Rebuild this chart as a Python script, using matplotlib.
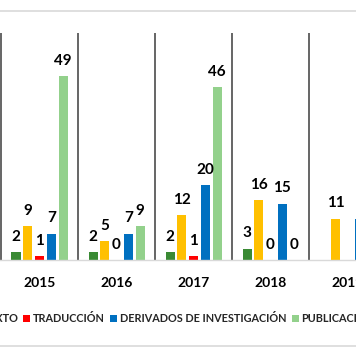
import matplotlib
matplotlib.use("Agg")
import matplotlib.pyplot as plt
from matplotlib.lines import Line2D
import numpy as np

# data read from the (cropped) reference chart
years = ["2015", "2016", "2017", "2018", "2019"]
series_names = ["LIBRO DE TEXTO", "TRADUCCIÓN", "DERIVADOS DE INVESTIGACIÓN", "PUBLICACIONES"]
libro_texto = [2, 2, 2, 3, None]
otros = [9, 5, 12, 16, 11]          # yellow series, its legend entry is off-image
traduccion = [1, 0, 1, 0, None]
derivados = [7, 7, 20, 15, 11]
publicaciones = [49, 9, 46, 0, None]

colors = ["#3a8a34", "#ffc000", "#ff0000", "#0070c0", "#93d18c"]
plt.rcParams["font.family"] = ["Lato", "DejaVu Sans"]

W, H = 356, 364
fig = plt.figure(figsize=(W / 100, H / 100), dpi=100)
# axes placed so the baseline sits at px 260 and the dividers start at px 33
ax = fig.add_axes([0, (H - 260) / H, 1, (260 - 33) / H])

x = np.arange(len(years))
step = 0.1526
width = 0.117
all_series = [libro_texto, otros, traduccion, derivados, publicaciones]
bars = []
for k, (vals, col) in enumerate(zip(all_series, colors)):
    xs = [xi + (k - 2) * step for xi, v in zip(x, vals) if v is not None]
    hs = [v for v in vals if v is not None]
    b = ax.bar(xs, hs, width=width, color=col, zorder=2)
    bars.append(b)
    for xx, hh in zip(xs, hs):
        ax.annotate(str(hh), (xx, hh), xytext=(0, 6), textcoords="offset points",
                    ha="center", va="bottom", fontsize=11, fontweight="bold",
                    color="#000000")

# group dividers
for xi in x:
    ax.axvline(xi - 0.5, color="#595959", lw=1.3, zorder=1)

ax.set_xlim(-0.513, 4.110)
ax.set_ylim(0, 60.4)
ax.set_yticks([])
ax.set_xticks(x)
ax.set_xticklabels(years, fontsize=10, fontweight="bold")
ax.tick_params(axis="x", length=0, pad=12)
for s in ["top", "left", "right"]:
    ax.spines[s].set_visible(False)
ax.spines["bottom"].set_color("#d9d9d9")
ax.spines["bottom"].set_linewidth(1)
ax.patch.set_alpha(0)

# chart frame lines (top and bottom of the chart area)
for ypx in (11, 346):
    fig.add_artist(Line2D([0, 1], [(H - ypx) / H] * 2, color="#d9d9d9", lw=1.2,
                          transform=fig.transFigure))

handles = [bars[0], bars[2], bars[3], bars[4]]
leg_kw = dict(loc="center left", ncol=4, frameon=False, handlelength=0.65,
              handleheight=0.65, handletextpad=0.25, columnspacing=0.5,
              prop={"weight": "bold", "size": 7.8}, labelcolor="#262626",
              borderaxespad=0, borderpad=0)
leg = fig.legend(handles, series_names, bbox_to_anchor=(-0.3, (H - 319) / H), **leg_kw)

# shift the legend so the TRADUCCIÓN marker lands at px 23 like in the reference
fig.canvas.draw()
r = fig.canvas.get_renderer()
hx = leg.legend_handles[1].get_window_extent(r).x0
leg.remove()
x0 = -0.3 + (23 - hx) / W
fig.legend(handles, series_names, bbox_to_anchor=(x0, (H - 319) / H), **leg_kw)

fig.savefig("out.png", dpi=100)
